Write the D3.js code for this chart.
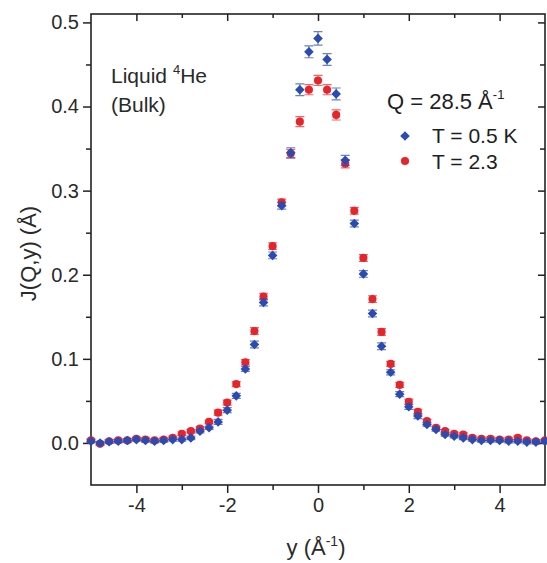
<!DOCTYPE html>
<html>
<head>
<meta charset="utf-8">
<script src="https://cdn.jsdelivr.net/npm/d3@7/dist/d3.min.js"></script>
<style>
  html, body { margin: 0; padding: 0; background: #fff; }
  svg { display: block; font-family: Arial, "Liberation Sans", sans-serif; }
</style>
</head>
<body>
<svg id="chart" width="547" height="563"></svg>
<script>
// Momentum variable y (Å^-1), sampled every 0.2
const yGrid = [-5.0,-4.8,-4.6,-4.4,-4.2,-4.0,-3.8,-3.6,-3.4,-3.2,-3.0,-2.8,-2.6,-2.4,-2.2,-2.0,-1.8,-1.6,-1.4,-1.2,-1.0,
  -0.8,-0.6,-0.4,-0.2,0.0,0.2,0.4,0.6,0.8,1.0,1.2,1.4,1.6,1.8,2.0,2.2,2.4,2.6,2.8,3.0,3.2,3.4,3.6,3.8,4.0,4.2,4.4,4.6,4.8,5.0];

// J(Q,y) at T = 0.5 K
const jLow = [0.002,0.000,0.0014,0.002,0.003,0.004,0.003,0.002,0.003,0.004,0.004,0.006,0.014,0.018,0.025,0.039,0.056,0.088,0.117,0.167,0.223,
  0.282,0.345,0.420,0.465,0.481,0.456,0.415,0.336,0.261,0.201,0.154,0.115,0.084,0.058,0.043,0.032,0.022,0.016,0.010,0.008,0.006,0.004,0.003,0.003,0.003,0.002,0.002,0.001,0.001,0.002];
const errLow = [0.002,0.002,0.002,0.002,0.002,0.002,0.002,0.002,0.002,0.002,0.002,0.002,0.002,0.002,0.003,0.003,0.003,0.003,0.004,0.004,0.004,
  0.004,0.006,0.007,0.007,0.008,0.007,0.007,0.006,0.004,0.004,0.004,0.004,0.003,0.003,0.003,0.003,0.002,0.002,0.002,0.002,0.002,0.002,0.002,0.002,0.002,0.002,0.002,0.002,0.002,0.002];

// J(Q,y) at T = 2.3 K
const jHigh = [0.003,-0.001,0.002,0.003,0.003,0.005,0.004,0.003,0.004,0.006,0.011,0.014,0.017,0.025,0.036,0.048,0.070,0.096,0.133,0.174,0.234,
  0.286,0.344,0.382,0.420,0.431,0.420,0.390,0.332,0.276,0.220,0.171,0.132,0.094,0.069,0.049,0.037,0.026,0.018,0.014,0.011,0.010,0.006,0.005,0.005,0.004,0.004,0.006,0.003,0.002,0.003];
const errHigh = [0.002,0.002,0.002,0.002,0.002,0.002,0.002,0.002,0.002,0.002,0.002,0.002,0.002,0.002,0.003,0.003,0.003,0.003,0.004,0.004,0.004,
  0.004,0.005,0.006,0.006,0.006,0.006,0.006,0.005,0.004,0.004,0.004,0.004,0.003,0.003,0.003,0.003,0.002,0.002,0.002,0.002,0.002,0.002,0.002,0.002,0.002,0.002,0.002,0.002,0.002,0.002];

// Axis ticks
const xMajor = [-4, -2, 0, 2, 4];
const xMinor = [-3, -1, 1, 3];
const yMajor = [0.0, 0.1, 0.2, 0.3, 0.4, 0.5];
const yMinor = [0.05, 0.15, 0.25, 0.35, 0.45];

const BLUE = "#2b4bb3";
const RED = "#e8242b";
const AXIS = "#222";
const TEXT = "#2a2a2a";

const svg = d3.select("#chart");
const frame = { left: 91, right: 545, top: 14, bottom: 485 };

const x = d3.scaleLinear().domain([-5, 5]).range([frame.left, frame.right]);
const y = d3.scaleLinear().domain([-0.05, 0.51]).range([frame.bottom, frame.top]);

// Frame: left/bottom axes with outward ticks, top/right with inward ticks
const fmtX = d => String(d);
const fmtY = d3.format(".1f");

const gLeft = svg.append("g").attr("transform", `translate(${frame.left},0)`);
gLeft.call(d3.axisLeft(y).tickValues(yMajor).tickFormat(fmtY).tickSize(8).tickPadding(4));
gLeft.append("g").call(d3.axisLeft(y).tickValues(yMinor).tickFormat("").tickSize(5));

const gBottom = svg.append("g").attr("transform", `translate(0,${frame.bottom})`);
gBottom.call(d3.axisBottom(x).tickValues(xMajor).tickFormat(fmtX).tickSize(8).tickPadding(5));
gBottom.append("g").call(d3.axisBottom(x).tickValues(xMinor).tickFormat("").tickSize(5));

const gTop = svg.append("g").attr("transform", `translate(0,${frame.top})`);
gTop.call(d3.axisBottom(x).tickValues(xMajor).tickFormat("").tickSize(7));
gTop.append("g").call(d3.axisBottom(x).tickValues(xMinor).tickFormat("").tickSize(4));

const gRight = svg.append("g").attr("transform", `translate(${frame.right},0)`);
gRight.call(d3.axisLeft(y).tickValues(yMajor).tickFormat("").tickSize(7));
gRight.append("g").call(d3.axisLeft(y).tickValues(yMinor).tickFormat("").tickSize(5));

svg.selectAll(".domain").remove();
svg.selectAll(".tick line").attr("stroke", AXIS).attr("stroke-width", 1.5);
svg.selectAll(".tick text").attr("fill", TEXT).style("font-size", "20px")
  .style("font-family", "Arial, 'Liberation Sans', sans-serif");

svg.append("rect")
  .attr("x", frame.left).attr("y", frame.top)
  .attr("width", frame.right - frame.left).attr("height", frame.bottom - frame.top)
  .attr("fill", "none").attr("stroke", AXIS).attr("stroke-width", 1.6);

// Data series: error bars then markers (2.3 K underneath 0.5 K)
const series = [
  { vals: jHigh, errs: errHigh, color: RED, shape: "circle" },
  { vals: jLow, errs: errLow, color: BLUE, shape: "diamond" }
];

const plot = svg.append("g");
const cap = 4.5;

series.forEach(s => {
  const pts = yGrid.map((v, i) => ({ x: v, j: s.vals[i], e: s.errs[i] }));
  const g = plot.append("g");
  const eb = g.append("g").attr("stroke", s.color).attr("stroke-opacity", 0.7).attr("stroke-width", 1.2).attr("fill", "none");
  eb.selectAll("path").data(pts).join("path")
    .attr("d", d => {
      const cx = x(d.x), y1 = y(d.j + d.e), y2 = y(d.j - d.e);
      return `M${cx},${y1}V${y2}M${cx - cap},${y1}H${cx + cap}M${cx - cap},${y2}H${cx + cap}`;
    });
  const sym = s.shape === "circle"
    ? d3.symbol(d3.symbolCircle, 52)
    : d3.symbol(d3.symbolSquare, 46);
  g.append("g").selectAll("path").data(pts).join("path")
    .attr("d", sym)
    .attr("fill", s.color)
    .attr("transform", d => `translate(${x(d.x)},${y(d.j)})` + (s.shape === "diamond" ? " rotate(45)" : ""));
});

// Axis titles
svg.append("text")
  .attr("transform", `translate(36,${(frame.top + frame.bottom) / 2 + 4}) rotate(-90)`)
  .attr("text-anchor", "middle")
  .attr("fill", TEXT).style("font-size", "22px")
  .text("J(Q,y) (Å)");

const xt = svg.append("text")
  .attr("x", 316).attr("y", 555)
  .attr("text-anchor", "middle")
  .attr("fill", TEXT).style("font-size", "22px");
xt.append("tspan").text("y (Å");
xt.append("tspan").attr("dy", -9).style("font-size", "14px").text("-1");
xt.append("tspan").attr("dy", 9).text(")");

// Sample annotation
const ann = svg.append("g").attr("fill", TEXT).style("font-size", "21px");
const t1 = ann.append("text").attr("x", 111).attr("y", 83);
t1.append("tspan").text("Liquid ");
t1.append("tspan").attr("dy", -9).style("font-size", "13px").text("4");
t1.append("tspan").attr("dy", 9).text("He");
ann.append("text").attr("x", 111).attr("y", 112).text("(Bulk)");

// Legend
const leg = svg.append("g").attr("fill", "#1e1e1e");
const q = leg.append("text").attr("x", 387).attr("y", 109).style("font-size", "22px");
q.append("tspan").text("Q = 28.5 Å");
q.append("tspan").attr("dy", -10).style("font-size", "13px").text("-1");

leg.append("path").attr("d", d3.symbol(d3.symbolSquare, 46))
  .attr("fill", BLUE).attr("transform", "translate(405,136) rotate(45)");
leg.append("text").attr("x", 432).attr("y", 143).style("font-size", "21px").text("T = 0.5 K");
leg.append("path").attr("d", d3.symbol(d3.symbolCircle, 52))
  .attr("fill", RED).attr("transform", "translate(405,161)");
leg.append("text").attr("x", 432).attr("y", 169).style("font-size", "21px").text("T = 2.3");
</script>
</body>
</html>
